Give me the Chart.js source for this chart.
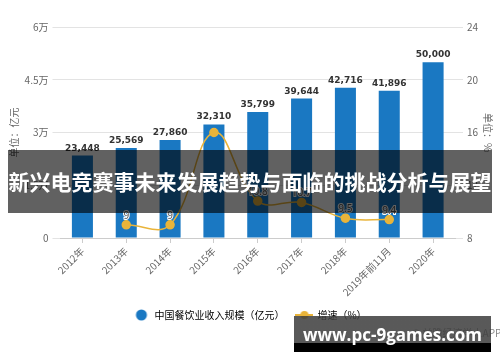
<!DOCTYPE html>
<html>
<head>
<meta charset="utf-8">
<script src="https://cdn.jsdelivr.net/npm/chart.js@4.4.1/dist/chart.umd.min.js"></script>
<style>
    html, body { margin: 0; padding: 0; background: #fff; }
    #contenedor { position: relative; width: 500px; height: 362px; overflow: hidden; }
    #grafica { position: absolute; left: 0; top: 0; }
    #banda {
        position: absolute; left: 8px; top: 150px; width: 484px; height: 63px;
        background: rgba(0, 0, 0, 0.62); color: #fff;
        font: bold 21px "Noto Sans CJK SC", sans-serif; line-height: 63px;
        text-align: center; white-space: nowrap; letter-spacing: 0;
    }
    #fuente {
        position: absolute; left: 412px; top: 325px; color: #888;
        font: 10px "Noto Sans CJK SC", sans-serif; white-space: nowrap;
    }
    #marca {
        position: absolute; left: 294px; top: 316px; width: 197px; height: 36px;
        background: linear-gradient(to bottom, rgba(60,60,60,0.85) 0, rgba(60,60,60,0.85) 27px, #000 27px, #000 36px);
    }
    #marca span {
        position: absolute; left: 0; right: 0; top: 7px; text-align: center; color: #fff;
        font: bold 17px "Open Sans", "Noto Sans", sans-serif; line-height: 24px; white-space: nowrap;
    }
</style>
</head>
<body>
<div id="contenedor">
    <canvas id="grafica" width="500" height="362"></canvas>
    <div id="banda">新兴电竞赛事未来发展趋势与面临的挑战分析与展望</div>
    <div id="fuente">© 前瞻经济学人APP</div>
    <div id="marca"><span>www.pc-9games.com</span></div>
</div>
<script>
// Datos de la gráfica
const anios = ['2012年', '2013年', '2014年', '2015年', '2016年', '2017年', '2018年', '2019年前11月', '2020年'];
const ingresos = [23448, 25569, 27860, 32310, 35799, 39644, 42716, 41896, 50000];
const crecimiento = [null, 9, 9, 16, 10.8, 10.7, 9.5, 9.4, null];
const etiquetasCrecimiento = ['', '9', '9', '', '10.8', '10.7', '9.5', '9.4', ''];
const ticksIzquierda = ['0', '1.5万', '3万', '4.5万', '6万'];
const nombresSeries = ['中国餐饮业收入规模（亿元）', '增速（%）'];

const colorBarra = '#1a78c2';
const colorLinea = '#e9b43a';

Chart.defaults.font.family = '"Noto Sans CJK SC", "Noto Sans", sans-serif';
Chart.defaults.font.size = 10;
Chart.defaults.color = '#666';

// Marcadores de la leyenda
function crearMarcador(tipo) {
    const c = document.createElement('canvas');
    c.width = 18; c.height = 12;
    const g = c.getContext('2d');
    if (tipo === 'linea') {
        g.strokeStyle = colorLinea;
        g.lineWidth = 2;
        g.beginPath(); g.moveTo(0, 6); g.lineTo(18, 6); g.stroke();
        g.fillStyle = colorLinea;
        g.beginPath(); g.arc(9, 6, 4, 0, Math.PI * 2); g.fill();
    } else {
        g.fillStyle = colorBarra;
        g.beginPath(); g.arc(9, 6, 5.5, 0, Math.PI * 2); g.fill();
    }
    return c;
}
const marcadorBarra = crearMarcador('barra');
const marcadorLinea = crearMarcador('linea');

// Etiquetas de valores sobre barras y puntos
const etiquetasPlugin = {
    id: 'etiquetas',
    afterDatasetsDraw(chart) {
        const ctx = chart.ctx;
        ctx.save();
        ctx.textAlign = 'center';
        ctx.textBaseline = 'alphabetic';
        ctx.font = 'bold 9px "DejaVu Sans"';
        ctx.fillStyle = '#333';
        chart.getDatasetMeta(0).data.forEach((barra, i) => {
            ctx.fillText(ingresos[i].toLocaleString('en-US'), barra.x, barra.y - 5);
        });
        ctx.font = '10px "Noto Sans"';
        chart.getDatasetMeta(1).data.forEach((punto, i) => {
            if (!etiquetasCrecimiento[i]) return;
            ctx.lineWidth = 2;
            ctx.strokeStyle = '#fff';
            ctx.strokeText(etiquetasCrecimiento[i], punto.x, punto.y - 6);
            ctx.fillStyle = '#555';
            ctx.fillText(etiquetasCrecimiento[i], punto.x, punto.y - 6);
        });
        ctx.restore();
    }
};

new Chart(document.getElementById('grafica'), {
    type: 'bar',
    data: {
        labels: anios,
        datasets: [{
            label: nombresSeries[0],
            data: ingresos,
            backgroundColor: colorBarra,
            barPercentage: 0.5,
            categoryPercentage: 0.96,
            yAxisID: 'y',
            order: 2
        }, {
            type: 'line',
            label: nombresSeries[1],
            data: crecimiento,
            borderColor: colorLinea,
            borderWidth: 1.5,
            backgroundColor: colorLinea,
            pointBackgroundColor: colorLinea,
            pointBorderColor: colorLinea,
            pointRadius: 4,
            tension: 0.4,
            yAxisID: 'y1',
            order: 1
        }]
    },
    options: {
        responsive: false,
        animation: false,
        layout: { padding: { top: 27, left: 0, right: 0, bottom: 32 } },
        plugins: {
            tooltip: { enabled: false },
            legend: {
                position: 'bottom',
                labels: {
                    usePointStyle: true,
                    pointStyleWidth: 16,
                    padding: 12,
                    color: '#555',
                    font: { size: 10 },
                    generateLabels: function() {
                        return [marcadorBarra, marcadorLinea].map((m, i) => ({
                            text: nombresSeries[i],
                            pointStyle: m,
                            fillStyle: 'transparent',
                            strokeStyle: 'transparent',
                            lineWidth: 0,
                            hidden: false,
                            datasetIndex: i
                        }));
                    }
                }
            }
        },
        scales: {
            x: {
                grid: { offset: false, drawOnChartArea: false, drawTicks: true, tickLength: 5, color: '#ccc' },
                border: { display: true, color: '#ccc' },
                ticks: { maxRotation: 45, minRotation: 45, padding: 2, color: '#666', font: { size: 10 } },
                afterFit: function(escala) { escala.height = 60; }
            },
            y: {
                position: 'left',
                min: 0,
                max: 60000,
                ticks: {
                    stepSize: 15000,
                    padding: 4,
                    color: '#666',
                    callback: (valor, i) => ticksIzquierda[i]
                },
                grid: { color: '#e3e3e3', tickLength: 8 },
                border: { display: false },
                title: { display: true, text: '单位：亿元', color: '#666', font: { size: 10 }, padding: { top: 8, bottom: 0 } },
                afterFit: function(escala) { escala.width = 60.5; }
            },
            y1: {
                position: 'right',
                min: 8,
                max: 24,
                ticks: { stepSize: 4, padding: 4, color: '#666' },
                grid: { drawOnChartArea: false, color: '#e3e3e3', tickLength: 8 },
                border: { display: false },
                title: { display: true, text: '单位：%', color: '#666', font: { size: 10 }, padding: { top: 6, bottom: 0 } },
                afterFit: function(escala) { escala.width = 45; }
            }
        }
    },
    plugins: [etiquetasPlugin]
});
</script>
</body>
</html>
